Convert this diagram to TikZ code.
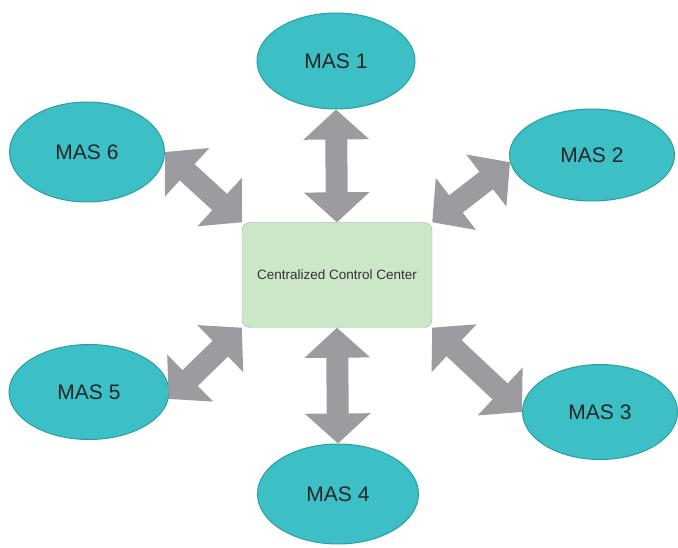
\documentclass[tikz,border=0pt]{standalone}
\usepackage{fontspec}
\setmainfont{Liberation Sans}
\usepackage{tikz}
\usetikzlibrary{arrows.meta,shapes.geometric}
\definecolor{masteal}{HTML}{3CBFC5}
\definecolor{masedge}{HTML}{2B9EA4}
\definecolor{ccgreen}{HTML}{CBE7C8}
\definecolor{ccedge}{HTML}{9CB89A}
\definecolor{linkgray}{HTML}{9B9BA0}

\begin{document}
\begin{tikzpicture}[x=1pt, y=-1pt,
    mas/.style={ellipse, draw=masedge, fill=masteal, line width=1pt, inner sep=0pt, font=\fontsize{21}{25}\selectfont, text=black!85},
    link/.style={linkgray, line width=22pt, {Triangle[width=64pt,length=30pt]}-{Triangle[width=64pt,length=30pt]}}]
        \useasboundingbox (0,0) rectangle (678,548);
        \node[draw=ccedge, fill=ccgreen, rounded corners=8pt, minimum width=190pt, minimum height=105pt, font=\fontsize{13.5}{16}\selectfont, text=black!80] (cc) at (337,275) {Centralized Control Center};
        \node[mas, minimum width=158pt, minimum height=96pt] (m1) at (336,61) {MAS 1};
        \node[mas, minimum width=165pt, minimum height=92pt] (m2) at (592,155) {MAS 2};
        \node[mas, minimum width=155pt, minimum height=95pt] (m3) at (600,412) {MAS 3};
        \node[mas, minimum width=161pt, minimum height=100pt] (m4) at (338,494) {MAS 4};
        \node[mas, minimum width=160pt, minimum height=95pt] (m5) at (89,392) {MAS 5};
        \node[mas, minimum width=155pt, minimum height=100pt] (m6) at (87,152) {MAS 6};
        \draw[link] (cc.north) -- (m1.south);
        \draw[link] (cc.north east) -- (m2.185);
        \draw[link] (cc.south east) -- (m3.west);
        \draw[link] (cc.south) -- (m4.north);
        \draw[link] (cc.south west) -- (m5.-5);
        \draw[link] (cc.north west) -- (m6.east);
    \end{tikzpicture}
\end{document}
